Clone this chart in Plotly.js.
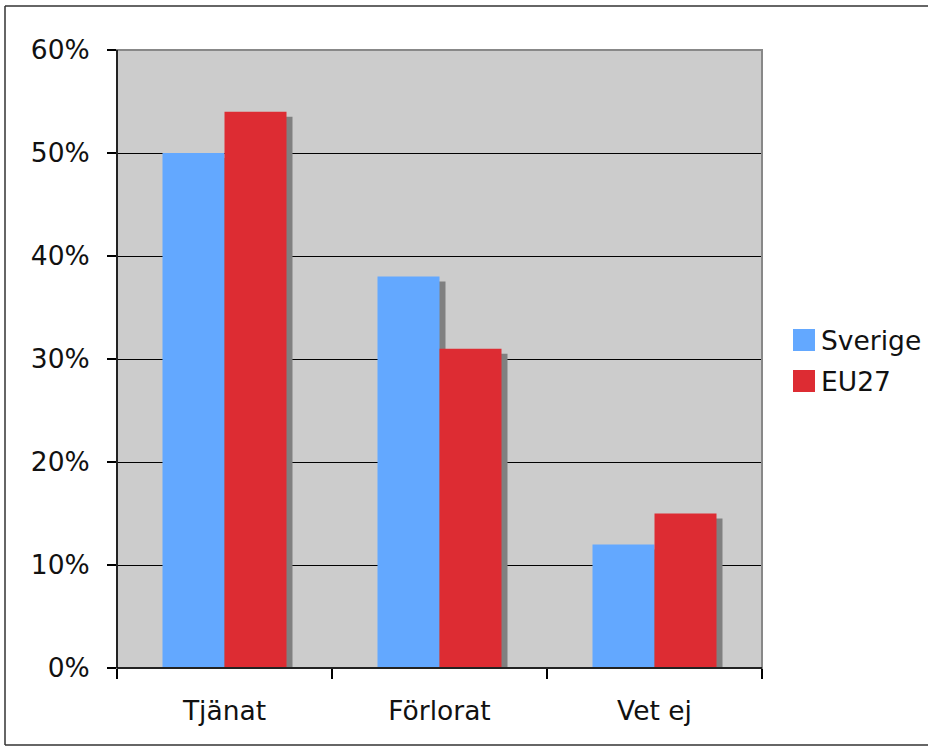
<!DOCTYPE html>
<html>
<head>
<meta charset="utf-8">
<script src="https://cdn.plot.ly/plotly-3.0.1.min.js"></script>
<style>html,body{margin:0;padding:0;background:#fff;}#chart{width:928px;height:747px;}</style>
</head>
<body>
<div id="chart"></div>
<script>
const categories = ['Tjänat', 'Förlorat', 'Vet ej'];
const seriesNames = ['Sverige', 'EU27'];
const sverige = [0.50, 0.38, 0.12];
const eu27 = [0.54, 0.31, 0.15];
const colors = ['#63a8ff', '#dd2c33'];
const shadowColor = '#808080';

const W = 928, H = 747;
const M = {l: 117, r: 166, t: 50, b: 79};
const plotW = W - M.l - M.r, plotH = H - M.t - M.b;
const yMax = 0.6;
const catPx = plotW / categories.length;
const barW = 62 / catPx;
const dxShadow = 6 / catPx;
const dyShadow = 5 * yMax / plotH;

const series = [sverige, eu27];
const offsets = [-barW, 0];
const traces = [];
series.forEach((vals, i) => {
  traces.push({
    type: 'bar', x: categories, y: vals.map(v => v - dyShadow),
    width: barW, offset: offsets[i] + dxShadow,
    marker: {color: shadowColor, line: {width: 0}},
    hoverinfo: 'skip', showlegend: false
  });
});
series.forEach((vals, i) => {
  traces.push({
    type: 'bar', name: seriesNames[i], x: categories, y: vals,
    width: barW, offset: offsets[i],
    marker: {color: colors[i], line: {width: 0}},
    showlegend: false
  });
});

const font = {family: 'DejaVu Sans, Verdana, sans-serif', size: 26.5, color: '#111'};
const px = v => (v - M.l) / plotW;
const py = v => (M.t + plotH - v) / plotH;
const frame = {color: '#333', width: 1.5};
const shapes = [
  {type: 'rect', xref: 'paper', yref: 'paper', x0: 0, x1: 1, y0: 0, y1: 1,
   line: {color: '#888', width: 2}, layer: 'above'},
  {type: 'line', xref: 'paper', yref: 'paper', x0: 0, x1: 0, y0: 0, y1: 1,
   line: {color: '#000', width: 1.5}, layer: 'above'},
  {type: 'line', xref: 'paper', yref: 'paper', x0: 0, x1: 1, y0: 0, y1: 0,
   line: {color: '#000', width: 1.5}, layer: 'above'},
  {type: 'line', xref: 'paper', yref: 'paper', x0: px(5), x1: px(5), y0: py(745), y1: py(6), line: frame},
  {type: 'line', xref: 'paper', yref: 'paper', x0: px(5), x1: px(928), y0: py(6), y1: py(6), line: frame},
  {type: 'line', xref: 'paper', yref: 'paper', x0: px(5), x1: px(928), y0: py(745), y1: py(745), line: frame}
];
const annotations = [];
const legendY = [340, 381];
seriesNames.forEach((n, i) => {
  const yc = legendY[i];
  shapes.push({type: 'rect', xref: 'paper', yref: 'paper',
    x0: px(793), x1: px(815), y0: py(yc + 11), y1: py(yc - 11),
    fillcolor: colors[i], line: {width: 0}});
  annotations.push({xref: 'paper', yref: 'paper', x: px(819),
    y: py(yc), xanchor: 'left', yanchor: 'middle',
    text: n, showarrow: false, font: font});
});

const layout = {
  width: W, height: H,
  margin: M,
  paper_bgcolor: '#fff', plot_bgcolor: '#cccccc',
  barmode: 'overlay',
  showlegend: false,
  font: font,
  xaxis: {
    type: 'category', tickson: 'boundaries', ticks: 'outside', ticklen: 10,
    tickcolor: '#000', tickwidth: 1.5, showgrid: false, zeroline: false,
    showline: false, tickfont: font, ticklabelstandoff: 24
  },
  yaxis: {
    range: [0, yMax], dtick: 0.1, tickformat: '.0%',
    ticks: 'outside', ticklen: 9, tickcolor: '#000', tickwidth: 1.5,
    showgrid: true, gridcolor: '#000', gridwidth: 1, zeroline: false,
    showline: false, tickfont: font, ticklabelstandoff: 12
  },
  shapes: shapes,
  annotations: annotations
};
Plotly.newPlot('chart', traces, layout, {displayModeBar: false, staticPlot: true});
</script>
</body>
</html>
